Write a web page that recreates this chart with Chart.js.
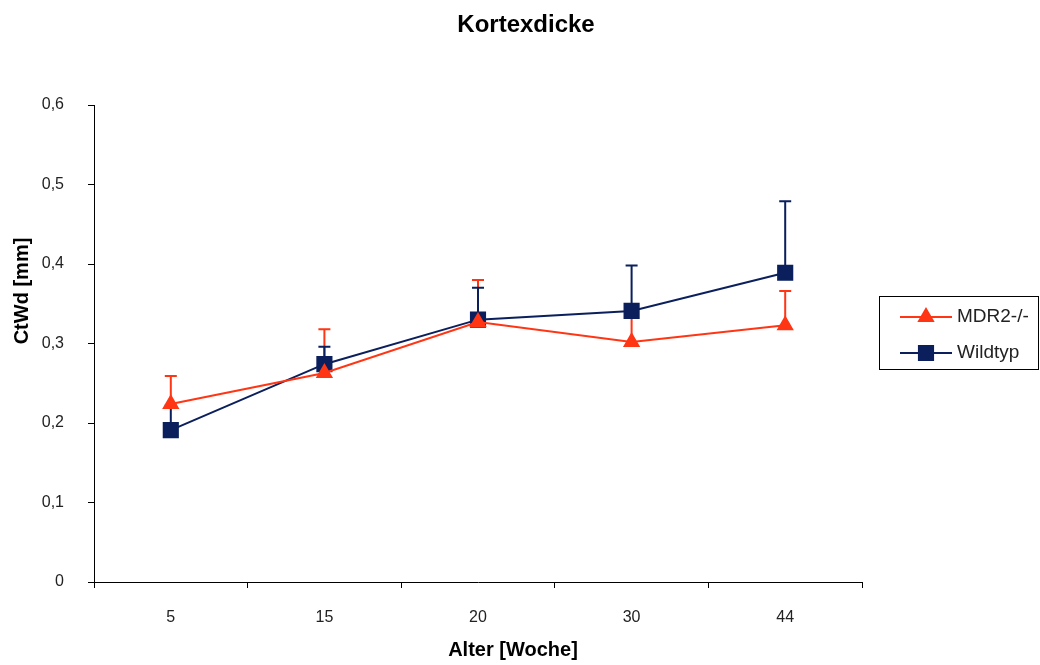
<!DOCTYPE html>
<html lang="de">
<head>
<meta charset="UTF-8">
<title>Kortexdicke</title>
<style>
  html, body { margin: 0; padding: 0; background: #fff; }
  #wrap { width: 1040px; height: 665px; }
</style>
</head>
<body>
<div id="wrap"><canvas id="chart"></canvas></div>
<script src="https://cdn.jsdelivr.net/npm/chart.js@4/dist/chart.umd.min.js"></script>
<script>
// Alter in Wochen
var weeks = ['5', '15', '20', '30', '44'];
var yTicks = [0, 0.1, 0.2, 0.3, 0.4, 0.5, 0.6];

// Mittelwerte
var mdr2 = [0.224, 0.263, 0.327, 0.302, 0.323];
var wildtyp = [0.191, 0.274, 0.330, 0.341, 0.389];

// obere Fehlerbalken (Mittelwert + SD)
var mdr2Err = [0.259, 0.318, 0.380, 0.338, 0.366];
var wildtypErr = [0.222, 0.296, 0.370, 0.398, 0.479];

var RED = '#ff3514';
var NAVY = '#0a1f5c';
var FONT = '"Liberation Sans", Arial, sans-serif';

// Fehlerbalken nur nach oben, unter den Markern
var errorBars = {
    id: 'errorBars',
    beforeDatasetsDraw: function(chart) {
        var ctx = chart.ctx;
        var y = chart.scales.y;
        chart.data.datasets.forEach(function(ds, i) {
            var meta = chart.getDatasetMeta(i);
            ctx.save();
            ctx.strokeStyle = ds.borderColor;
            ctx.lineWidth = 2;
            meta.data.forEach(function(pt, j) {
                var top = y.getPixelForValue(ds.errTop[j]);
                ctx.beginPath();
                ctx.moveTo(pt.x, pt.y);
                ctx.lineTo(pt.x, top);
                ctx.moveTo(pt.x - 6, top);
                ctx.lineTo(pt.x + 6, top);
                ctx.stroke();
            });
            ctx.restore();
        });
    }
};

// Achsentitel (nicht ganz mittig wie im Original) und Legende mit Rahmen
var extras = {
    id: 'extras',
    afterDraw: function(chart) {
        var ctx = chart.ctx;
        ctx.save();
        ctx.fillStyle = '#000';
        ctx.font = 'bold 20px ' + FONT;
        ctx.textAlign = 'center';
        ctx.textBaseline = 'middle';
        ctx.fillText('Alter [Woche]', 513, 650);
        ctx.translate(22, 291);
        ctx.rotate(-Math.PI / 2);
        ctx.fillText('CtWd [mm]', 0, 0);
        ctx.restore();

        ctx.save();
        ctx.strokeStyle = '#000';
        ctx.lineWidth = 1;
        ctx.strokeRect(879.5, 296.5, 159, 73);
        chart.data.datasets.forEach(function(ds, i) {
            var yy = 317 + i * 36;
            ctx.strokeStyle = ds.borderColor;
            ctx.lineWidth = 2;
            ctx.beginPath();
            ctx.moveTo(900, yy);
            ctx.lineTo(952, yy);
            ctx.stroke();
            Chart.helpers.drawPoint(ctx, {
                pointStyle: ds.pointStyle,
                radius: ds.pointStyle === 'rect' ? 10 : 8,
                borderWidth: 1
            }, 926, yy);
            ctx.fillStyle = ds.pointBackgroundColor;
            ctx.fill();
            ctx.fillStyle = '#222';
            ctx.font = '19px ' + FONT;
            ctx.textBaseline = 'middle';
            ctx.fillText(ds.label, 957, yy);
        });
        ctx.restore();
    }
};

var ctx = document.getElementById('chart').getContext('2d');
var chart = new Chart(ctx, {
    type: 'line',
    data: {
        labels: weeks,
        datasets: [{
            label: 'MDR2-/-',
            data: mdr2,
            errTop: mdr2Err,
            borderColor: RED,
            backgroundColor: RED,
            pointBackgroundColor: RED,
            pointBorderColor: RED,
            pointStyle: 'triangle',
            pointRadius: 8,
            borderWidth: 2,
            tension: 0
        }, {
            label: 'Wildtyp',
            data: wildtyp,
            errTop: wildtypErr,
            borderColor: NAVY,
            backgroundColor: NAVY,
            pointBackgroundColor: NAVY,
            pointBorderColor: NAVY,
            pointStyle: 'rect',
            pointRadius: 10,
            borderWidth: 2,
            tension: 0
        }]
    },
    options: {
        responsive: true,
        maintainAspectRatio: false,
        animation: false,
        layout: { padding: { left: 12, right: 0, top: 0, bottom: 0 } },
        plugins: {
            legend: { display: false },
            tooltip: { enabled: false },
            title: {
                display: true,
                text: 'Kortexdicke',
                color: '#000',
                font: { family: FONT, size: 24, weight: 'bold' },
                padding: { top: 11, bottom: 65.2 }
            }
        },
        scales: {
            x: {
                offset: true,
                grid: {
                    offset: true,
                    drawOnChartArea: false,
                    drawTicks: true,
                    tickLength: 6,
                    color: '#000'
                },
                border: { color: '#000', width: 1 },
                ticks: {
                    color: '#222',
                    padding: 20,
                    font: { family: FONT, size: 16 }
                },
                afterFit: function(scale) { scale.height = 83; }
            },
            y: {
                min: 0,
                max: 0.6,
                afterBuildTicks: function(scale) {
                    scale.ticks = yTicks.map(function(v) { return { value: v }; });
                },
                grid: {
                    drawOnChartArea: false,
                    drawTicks: true,
                    tickLength: 6,
                    color: '#000'
                },
                border: { color: '#000', width: 1 },
                ticks: {
                    color: '#222',
                    padding: 24,
                    font: { family: FONT, size: 16 },
                    callback: function(v) { return String(Math.round(v * 10) / 10).replace('.', ','); }
                },
                afterFit: function(scale) { scale.width = 82; }
            },
            // leere rechte Achse als Platzhalter fuer die Legende
            yRight: {
                position: 'right',
                display: true,
                grid: { display: false },
                border: { display: false },
                ticks: { display: false },
                afterFit: function(scale) { scale.width = 178; }
            }
        }
    },
    plugins: [errorBars, extras]
});
</script>
</body>
</html>
